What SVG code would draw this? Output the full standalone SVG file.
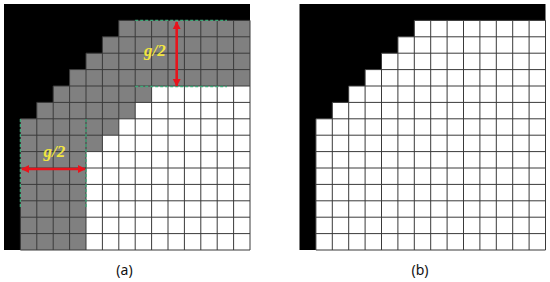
<svg xmlns="http://www.w3.org/2000/svg" width="550" height="282" viewBox="0 0 550 282">
<style>
.bg{fill:#ffffff}
.blk{fill:#000000}
.gry{fill:#808080}
.wht{fill:#ffffff}
.grid{fill:none;stroke:#3a3a3a;stroke-width:1;vector-effect:non-scaling-stroke}
.dash{fill:none;stroke:#3ea878;stroke-width:1.3;stroke-dasharray:3 2}
.arr{fill:none;stroke:#e8141c;stroke-width:2.6}
.lbl{font-family:"Liberation Serif","Times New Roman",serif;font-style:italic;font-weight:bold;font-size:17px;fill:#f2e640}
.cap{font-family:"Noto Sans","Open Sans",sans-serif;font-size:14px;fill:#111111;text-anchor:middle}
</style>
<defs>
<marker id="ah" viewBox="0 0 10 10" refX="9" refY="5" markerWidth="3.2" markerHeight="3.4" orient="auto-start-reverse" markerUnits="strokeWidth">
<path d="M0 0L10 5L0 10z" fill="#e8141c"/>
</marker>
</defs>
<rect class="bg" x="0" y="0" width="550" height="282"/>
<g id="panel-a">
<g transform="translate(4,4) scale(16.4)">
<rect class="blk" x="0" y="0" width="15" height="15"/>
<path class="gry" d="M7 1H15V15H1V7H2V6H3V5H4V4H5V3H6V2H7Z"/>
<path class="wht" d="M9 5H15V15H5V9H6V8H7V7H8V6H9Z"/>
<path class="grid" d="M1 7V15M2 6V15M3 5V15M4 4V15M5 3V15M6 2V15M7 1V15M8 1V15M9 1V15M10 1V15M11 1V15M12 1V15M13 1V15M14 1V15M15 1V15M7 1H15M6 2H15M5 3H15M4 4H15M3 5H15M2 6H15M1 7H15M1 8H15M1 9H15M1 10H15M1 11H15M1 12H15M1 13H15M1 14H15M1 15H15"/>
</g>
<line class="dash" x1="20.4" y1="119" x2="20.4" y2="207"/>
<line class="dash" x1="86" y1="119" x2="86" y2="207"/>
<line class="dash" x1="135.2" y1="20.4" x2="227" y2="20.4"/>
<line class="dash" x1="135.2" y1="86.5" x2="227" y2="86.5"/>
</g>
<g id="panel-b">
<g transform="translate(299.5,4) scale(16.4)">
<rect class="blk" x="0" y="0" width="15" height="15"/>
<path class="wht" d="M7 1H15V15H1V7H2V6H3V5H4V4H5V3H6V2H7Z"/>
<path class="grid" d="M1 7V15M2 6V15M3 5V15M4 4V15M5 3V15M6 2V15M7 1V15M8 1V15M9 1V15M10 1V15M11 1V15M12 1V15M13 1V15M14 1V15M15 1V15M7 1H15M6 2H15M5 3H15M4 4H15M3 5H15M2 6H15M1 7H15M1 8H15M1 9H15M1 10H15M1 11H15M1 12H15M1 13H15M1 14H15M1 15H15"/>
</g>
</g>
<g id="connectors">
<line class="arr" x1="22" y1="169" x2="85" y2="169" marker-start="url(#ah)" marker-end="url(#ah)"/>
<line class="arr" x1="176.7" y1="22" x2="176.7" y2="86" marker-start="url(#ah)" marker-end="url(#ah)"/>
</g>
<g id="labels">
<text class="lbl" x="43.5" y="156.5">g/2</text>
<text class="lbl" x="144" y="56">g/2</text>
<text class="cap" x="124.5" y="275">(a)</text>
<text class="cap" x="420" y="275">(b)</text>
</g>
</svg>
